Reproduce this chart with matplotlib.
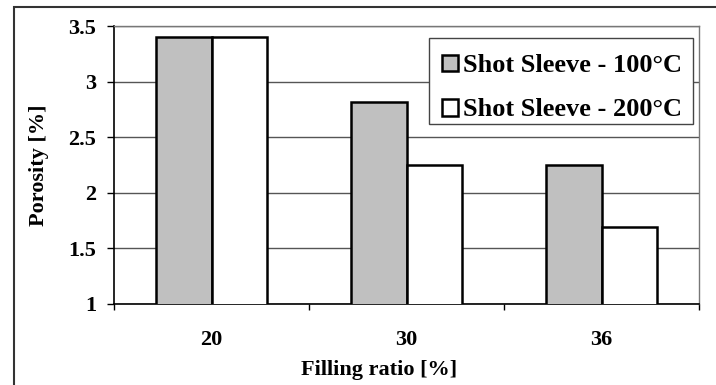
import matplotlib.pyplot as plt
from matplotlib.patches import Rectangle
import numpy as np

plt.rcParams['font.family'] = ['Liberation Serif', 'DejaVu Serif']
plt.rcParams['font.weight'] = 'bold'

# filling ratio groups and porosity per shot sleeve temperature
ratios = ['20', '30', '36']
series_names = ['Shot Sleeve - 100\u00b0C', 'Shot Sleeve - 200\u00b0C']
porosity_100 = [3.4, 2.82, 2.25]
porosity_200 = [3.4, 2.25, 1.69]

fig = plt.figure(figsize=(7.16, 3.85), dpi=100)
# chart frame
fig.patches.append(Rectangle((14 / 716, -0.1), 1.2, 1 - 7 / 385 + 0.1,
                             transform=fig.transFigure, fill=False,
                             edgecolor='#333333', lw=1.5))

ax = fig.add_axes([114 / 716, 1 - 303.7 / 385, 585 / 716, 277.7 / 385])

x = np.arange(len(ratios))
w = 0.2856
ax.bar(x - w, porosity_100, width=w, align='edge', bottom=0,
       color='#c0c0c0', edgecolor='black', lw=1.8, label=series_names[0], zorder=3)
ax.bar(x, porosity_200, width=w, align='edge', bottom=0,
       color='white', edgecolor='black', lw=1.8, label=series_names[1], zorder=3)

ax.set_xlim(-0.5, 2.5)
ax.set_ylim(1, 3.5)
ax.set_yticks([1, 1.5, 2, 2.5, 3, 3.5])
ax.set_yticklabels(['1', '1.5', '2', '2.5', '3', '3.5'])
ax.yaxis.grid(True, color='#555555', lw=1)
ax.set_axisbelow(True)

# boundaries get tick marks, centres get labels
ax.set_xticks([-0.5, 0.5, 1.5, 2.5])
ax.set_xticklabels([])
ax.set_xticks(x, minor=True)
ax.set_xticklabels(ratios, minor=True)
ax.tick_params(axis='x', which='major', direction='out', length=4, width=1)
ax.tick_params(axis='x', which='minor', length=0, pad=19, labelsize=16)
ax.tick_params(axis='y', direction='out', length=5, width=1, pad=8, labelsize=16)

for s in ['top', 'right']:
    ax.spines[s].set_color('#777777')
    ax.spines[s].set_linewidth(1)
ax.spines['left'].set_linewidth(1.2)
ax.spines['bottom'].set_linewidth(1.2)

ax.set_xlabel('Filling ratio [%]', fontsize=16, fontweight='bold')
ax.xaxis.set_label_coords(0.453, -0.239)
ax.xaxis.label.set_va('center')
ax.set_ylabel('Porosity [%]', fontsize=16, fontweight='bold')
ax.yaxis.set_label_coords(-0.128, 0.5)
ax.yaxis.label.set_va('center')

# legend box drawn separately so the entries can sit freely inside it
ax.add_patch(Rectangle((0.539, 0.647), 0.451, 0.3087, transform=ax.transAxes,
                       facecolor='white', edgecolor='#444444', lw=1,
                       zorder=4, clip_on=False))
leg = ax.legend(loc='upper left', bbox_to_anchor=(0.5607, 0.898),
                borderaxespad=0, borderpad=0, fontsize=19, frameon=False,
                handlelength=0.6, handleheight=0.6,
                handletextpad=0.2, labelspacing=0.8)
leg.set_zorder(5)

fig.savefig('out.png', dpi=100)
